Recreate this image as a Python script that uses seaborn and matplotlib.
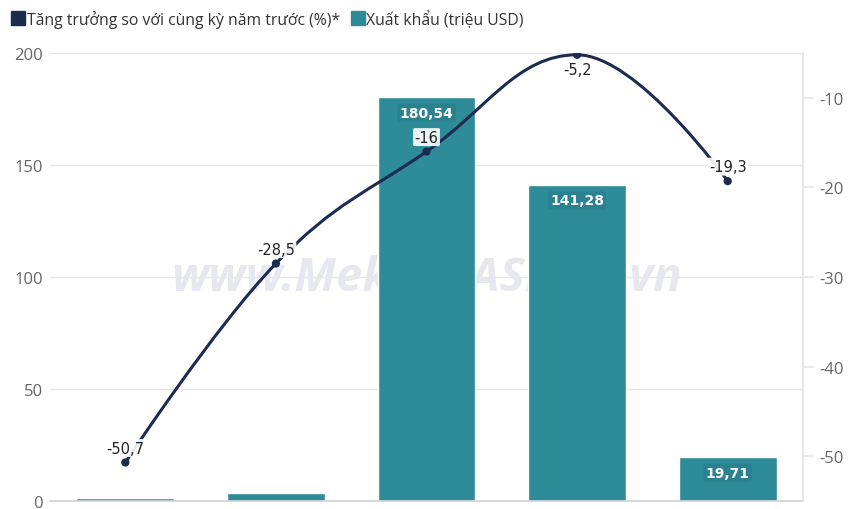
import numpy as np
import pandas as pd
import matplotlib
matplotlib.use("Agg")
import matplotlib.pyplot as plt
import seaborn as sns
from matplotlib.path import Path
from matplotlib.patches import PathPatch
from matplotlib.lines import Line2D

# data
periods = ["P1", "P2", "P3", "P4", "P5"]
export_musd = [1.2, 3.6, 180.54, 141.28, 19.71]
growth_pct = [-50.7, -28.5, -16.0, -5.2, -19.3]
export_labels = [None, None, "180,54", "141,28", "19,71"]
growth_labels = ["-50,7", "-28,5", "-16", "-5,2", "-19,3"]

BAR = "#2e8b98"
LINE = "#1c2b50"
GRID = "#e6e6e6"
TICK = "#666666"

sns.set_theme(style="white")
plt.rcParams["font.family"] = ["Open Sans", "DejaVu Sans"]
plt.rcParams["axes.unicode_minus"] = False

df = pd.DataFrame({"period": periods, "export": export_musd, "growth": growth_pct})

fig = plt.figure(figsize=(8.5, 5.1), dpi=100)
ax = fig.add_axes([50 / 850, 8 / 510, 753 / 850, 448 / 510])

sns.barplot(data=df, x="period", y="export", color=BAR, width=0.65,
            saturation=1, ax=ax, zorder=2)
ax.set_xlim(-0.5, 4.5)
ax.set_ylim(0, 200)
ax.set_yticks([0, 50, 100, 150, 200])
ax.yaxis.grid(True, color=GRID, lw=1)
ax.set_axisbelow(True)
ax.set_xlabel("")
ax.set_ylabel("")
ax.set_xticklabels([])
ax.tick_params(axis="x", length=5, color="#cfd3da", width=1, pad=0)
ax.tick_params(axis="y", length=0, labelsize=12, labelcolor=TICK, pad=5)
for s in ["top", "left"]:
    ax.spines[s].set_visible(False)
ax.spines["bottom"].set_color("#cfd3da")
ax.spines["right"].set_color(GRID)

# watermark
ax.text(2.0, 100, "www.MekongASEAN.vn", ha="center", va="center",
        fontsize=34, fontweight="bold", fontstyle="italic", color="#e7e7f0",
        zorder=1)

# bar labels
for i, (v, lab) in enumerate(zip(export_musd, export_labels)):
    if lab is None:
        continue
    ax.text(i, v - 4, lab, ha="center", va="top", fontsize=10,
            fontweight="bold", color="white",
            family=["Liberation Sans Narrow", "DejaVu Sans"], zorder=5,
            bbox=dict(boxstyle="round,pad=0.15", fc="#2a8290", ec="none"))

ax2 = ax.twinx()
ax2.set_ylim(-55, -5)
ax2.set_yticks([-10, -20, -30, -40, -50])
ax2.tick_params(axis="y", length=8, color=GRID, labelsize=12,
                labelcolor=TICK, pad=4)
for s in ["top", "left", "bottom"]:
    ax2.spines[s].set_visible(False)
ax2.spines["right"].set_color(GRID)
ax2.grid(False)

# smooth spline (Highcharts-style control points) in data coordinates
xs = np.arange(len(growth_pct), dtype=float)
ys = np.array(growth_pct, dtype=float)
sm, den = 1.5, 2.5
lc = [(x, y) for x, y in zip(xs, ys)]
rc = [(x, y) for x, y in zip(xs, ys)]
for i in range(1, len(xs) - 1):
    px, py = xs[i], ys[i]
    lx, ly = xs[i - 1], ys[i - 1]
    nx, ny = xs[i + 1], ys[i + 1]
    lcx = (sm * px + lx) / den
    lcy = (sm * py + ly) / den
    rcx = (sm * px + nx) / den
    rcy = (sm * py + ny) / den
    corr = ((rcy - lcy) * (rcx - px)) / (rcx - lcx) + py - rcy
    lcy += corr
    rcy += corr
    if lcy > ly and lcy > py:
        lcy = max(ly, py)
        rcy = 2 * py - lcy
    elif lcy < ly and lcy < py:
        lcy = min(ly, py)
        rcy = 2 * py - lcy
    if rcy > ny and rcy > py:
        rcy = max(ny, py)
        lcy = 2 * py - rcy
    elif rcy < ny and rcy < py:
        rcy = min(ny, py)
        lcy = 2 * py - rcy
    lc[i] = (lcx, lcy)
    rc[i] = (rcx, rcy)

verts = [(xs[0], ys[0])]
codes = [Path.MOVETO]
for i in range(1, len(xs)):
    verts += [rc[i - 1], lc[i], (xs[i], ys[i])]
    codes += [Path.CURVE4] * 3
ax2.add_patch(PathPatch(Path(verts, codes), fc="none", ec=LINE, lw=2.2, zorder=3))

sns.scatterplot(x=xs, y=ys, ax=ax2, color=LINE, s=35, edgecolor="none",
                zorder=4, legend=False)

top_idx = int(np.argmax(ys))
for i, (v, lab) in enumerate(zip(growth_pct, growth_labels)):
    below = i == top_idx
    ax2.annotate(lab, (i, v), xytext=(0, -5 if below else 5),
                 textcoords="offset points", ha="center",
                 va="top" if below else "bottom", fontsize=10.5, color="#222222",
                 family=["Liberation Sans Narrow", "DejaVu Sans"], zorder=6,
                 bbox=dict(boxstyle="round,pad=0.1", fc="white", ec="none", alpha=0.9))

handles = [
    Line2D([], [], marker="s", ls="none", color=LINE, markersize=10),
    Line2D([], [], marker="s", ls="none", color=BAR, markersize=10),
]
fig.legend(handles, ["Tăng trưởng so với cùng kỳ năm trước (%)*", "Xuất khẩu (triệu USD)"],
           loc="upper left", bbox_to_anchor=(0.0, 1.0), ncol=2, frameon=False,
           fontsize=11.3, labelcolor="#333333", handletextpad=0.1,
           columnspacing=0.7, borderaxespad=0.3, handlelength=0.9)

fig.savefig("out.png", dpi=100)
